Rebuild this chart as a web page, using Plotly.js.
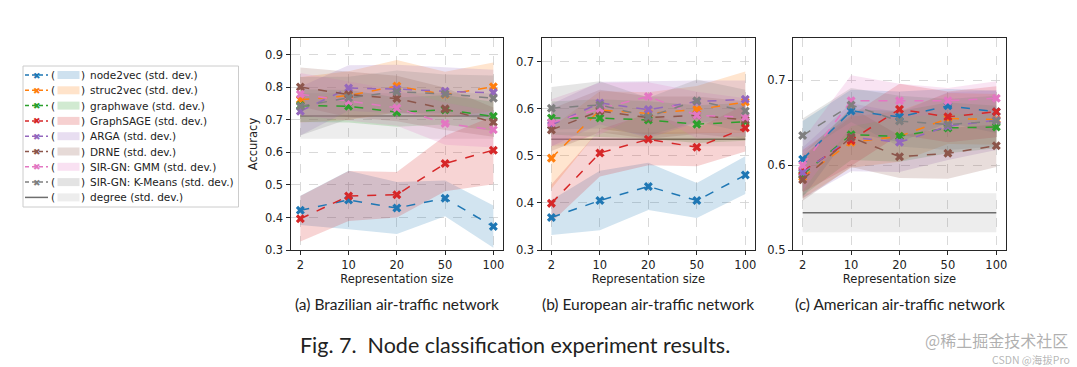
<!DOCTYPE html>
<html>
<head>
<meta charset="utf-8">
<script src="https://cdn.plot.ly/plotly-3.0.1.min.js"></script>
<style>html,body{margin:0;padding:0;background:#fff;}#chart{width:1077px;height:367px;}</style>
</head>
<body>
<div id="chart"></div>
<script>
// ---------------- DATA ----------------
const categories = ['2', '10', '20', '50', '100'];
const methods = ['node2vec', 'struc2vec', 'graphwave', 'GraphSAGE', 'ARGA', 'DRNE', 'SIR-GN: GMM', 'SIR-GN: K-Means'];
const methodColors = ['#1f77b4', '#ff7f0e', '#2ca02c', '#d62728', '#9467bd', '#8c564b', '#e377c2', '#7f7f7f'];
const panelCaptions = ['(a) Brazilian air-traffic network', '(b) European air-traffic network', '(c) American air-traffic network'];

// (a) Brazilian
const brazilMeans = [
  [0.422, 0.454, 0.429, 0.459, 0.372],
  [0.762, 0.775, 0.804, 0.778, 0.802],
  [0.744, 0.742, 0.724, 0.731, 0.711],
  [0.396, 0.466, 0.470, 0.566, 0.607],
  [0.727, 0.798, 0.795, 0.788, 0.784],
  [0.801, 0.778, 0.766, 0.734, 0.693],
  [0.779, 0.757, 0.737, 0.689, 0.670],
  [0.742, 0.768, 0.787, 0.780, 0.767]
];
const brazilStd = [
  [0.045, 0.090, 0.080, 0.055, 0.065],
  [0.070, 0.075, 0.080, 0.070, 0.075],
  [0.050, 0.050, 0.045, 0.045, 0.045],
  [0.070, 0.077, 0.070, 0.085, 0.105],
  [0.075, 0.070, 0.075, 0.075, 0.070],
  [0.060, 0.070, 0.070, 0.065, 0.045],
  [0.065, 0.060, 0.055, 0.065, 0.055],
  [0.090, 0.065, 0.065, 0.060, 0.070]
];
const brazilDegree = [0.712, 0.070];

// (b) European
const europeMeans = [
  [0.369, 0.405, 0.435, 0.405, 0.459],
  [0.495, 0.597, 0.590, 0.598, 0.614],
  [0.580, 0.580, 0.576, 0.567, 0.572],
  [0.399, 0.506, 0.535, 0.518, 0.559],
  [0.565, 0.612, 0.598, 0.615, 0.620],
  [0.555, 0.595, 0.581, 0.586, 0.576],
  [0.570, 0.600, 0.626, 0.586, 0.582],
  [0.601, 0.608, 0.583, 0.617, 0.595]
];
const europeStd = [
  [0.037, 0.063, 0.050, 0.037, 0.040],
  [0.065, 0.040, 0.045, 0.050, 0.065],
  [0.035, 0.040, 0.040, 0.040, 0.040],
  [0.040, 0.050, 0.055, 0.040, 0.050],
  [0.045, 0.045, 0.060, 0.045, 0.040],
  [0.045, 0.045, 0.045, 0.040, 0.040],
  [0.050, 0.055, 0.030, 0.050, 0.040],
  [0.045, 0.050, 0.040, 0.045, 0.045]
];
const europeDegree = [0.535, 0.015];

// (c) American
const americaMeans = [
  [0.607, 0.664, 0.657, 0.670, 0.663],
  [0.586, 0.627, 0.634, 0.655, 0.654],
  [0.589, 0.636, 0.634, 0.644, 0.645],
  [0.593, 0.629, 0.666, 0.657, 0.663],
  [0.591, 0.633, 0.627, 0.646, 0.653],
  [0.583, 0.633, 0.610, 0.614, 0.623],
  [0.600, 0.676, 0.676, 0.676, 0.679],
  [0.635, 0.671, 0.652, 0.648, 0.652]
];
const americaStd = [
  [0.045, 0.025, 0.030, 0.020, 0.025],
  [0.025, 0.030, 0.030, 0.030, 0.030],
  [0.025, 0.030, 0.030, 0.030, 0.025],
  [0.025, 0.030, 0.030, 0.030, 0.030],
  [0.030, 0.040, 0.035, 0.040, 0.035],
  [0.025, 0.035, 0.025, 0.030, 0.025],
  [0.030, 0.030, 0.020, 0.015, 0.020],
  [0.020, 0.020, 0.030, 0.030, 0.030]
];
const americaDegree = [0.544, 0.023];

const yTicks = [
  [0.3, 0.4, 0.5, 0.6, 0.7, 0.8, 0.9],
  [0.3, 0.4, 0.5, 0.6, 0.7],
  [0.5, 0.6, 0.7]
];
const yRanges = [[0.3, 0.952], [0.3, 0.75], [0.5, 0.75]];

// ---------------- BUILD ----------------
const W = 1077, H = 367;
const fx = p => p / W;
const fy = p => 1 - p / H;
function rgba(hex, a) {
  const n = parseInt(hex.slice(1), 16);
  return `rgba(${(n >> 16) & 255},${(n >> 8) & 255},${n & 255},${a})`;
}
const panelPx = [[290.7, 503], [541.7, 755], [793, 1006]];
const plotTop = 38, plotBottom = 250;
const allMeans = [brazilMeans, europeMeans, americaMeans];
const allStd = [brazilStd, europeStd, americaStd];
const allDegree = [brazilDegree, europeDegree, americaDegree];
const degreeColor = '#6e6e6e';
const axisFont = {family: 'DejaVu Sans', size: 11.5, color: '#222'};

const traces = [];
const layout = {
  width: W, height: H,
  margin: {l: 0, r: 0, t: 0, b: 0},
  paper_bgcolor: '#fff', plot_bgcolor: '#fff',
  showlegend: false,
  shapes: [], annotations: []
};

for (let p = 0; p < 3; p++) {
  const sfx = p === 0 ? '' : String(p + 1);
  const xa = 'x' + sfx, ya = 'y' + sfx;
  const revCats = categories.slice().reverse();
  // degree
  const [dm, ds] = allDegree[p];
  traces.push({
    x: categories.concat(revCats),
    y: categories.map(() => dm + ds).concat(categories.map(() => dm - ds)),
    xaxis: xa, yaxis: ya, type: 'scatter', mode: 'lines', fill: 'toself',
    fillcolor: 'rgba(128,128,128,0.14)', line: {width: 0}, hoverinfo: 'skip'
  });
  traces.push({
    x: categories, y: categories.map(() => dm), xaxis: xa, yaxis: ya,
    type: 'scatter', mode: 'lines', line: {color: degreeColor, width: 1.5}
  });
  for (let m = 0; m < methods.length; m++) {
    const mean = allMeans[p][m], sd = allStd[p][m];
    const up = mean.map((v, i) => v + sd[i]);
    const lo = mean.map((v, i) => v - sd[i]).reverse();
    traces.push({
      x: categories.concat(revCats), y: up.concat(lo),
      xaxis: xa, yaxis: ya, type: 'scatter', mode: 'lines', fill: 'toself',
      fillcolor: rgba(methodColors[m], 0.2), line: {width: 0}, hoverinfo: 'skip'
    });
  }
  for (let m = 0; m < methods.length; m++) {
    traces.push({
      x: categories, y: allMeans[p][m], xaxis: xa, yaxis: ya,
      type: 'scatter', mode: 'lines+markers', name: methods[m],
      line: {color: methodColors[m], width: 1.5, dash: 'dash'},
      marker: {symbol: 'x', size: 8, color: methodColors[m], line: {width: 0}}
    });
  }
  layout['xaxis' + sfx] = {
    domain: [fx(panelPx[p][0]), fx(panelPx[p][1])], anchor: ya,
    type: 'category', range: [-0.2, 4.2],
    showline: true, mirror: true, linecolor: '#262626', linewidth: 1.2,
    ticks: 'outside', ticklen: 4, tickcolor: '#262626', tickwidth: 1,
    showgrid: true, gridcolor: '#cfcfcf', gridwidth: 0.8, griddash: 'dash',
    zeroline: false, tickfont: axisFont,
    title: {text: 'Representation size', font: axisFont, standoff: 2}
  };
  layout['yaxis' + sfx] = {
    domain: [fy(plotBottom), fy(plotTop)], anchor: xa,
    range: yRanges[p], tickvals: yTicks[p], ticktext: yTicks[p].map(v => v.toFixed(1)),
    showline: true, mirror: true, linecolor: '#262626', linewidth: 1.2,
    ticks: 'outside', ticklen: 4, tickcolor: '#262626', tickwidth: 1,
    showgrid: true, gridcolor: '#cfcfcf', gridwidth: 0.8, griddash: 'dash',
    zeroline: false, tickfont: axisFont,
    title: p === 0 ? {text: 'Accuracy', font: axisFont, standoff: 4} : {text: ''}
  };
  layout.annotations.push({
    xref: 'paper', yref: 'paper', x: fx((panelPx[p][0] + panelPx[p][1]) / 2), y: fy(304),
    xanchor: 'center', yanchor: 'middle', showarrow: false,
    text: panelCaptions[p], font: {family: 'Lato', size: 15.5, color: '#222'}
  });
}

// ---------------- LEGEND (drawn) ----------------
layout.shapes.push({
  type: 'rect', xref: 'paper', yref: 'paper',
  x0: fx(23), x1: fx(238.5), y0: fy(207), y1: fy(66),
  line: {color: '#cccccc', width: 1}, fillcolor: '#ffffff', layer: 'above'
});
const legendNames = methods.concat(['degree']);
const legendColors = methodColors.concat([degreeColor]);
legendNames.forEach((name, i) => {
  const cy = 75 + i * 15.3;
  const isDegree = i === legendNames.length - 1;
  layout.shapes.push({
    type: 'line', xref: 'paper', yref: 'paper', layer: 'above',
    x0: fx(25), x1: fx(48), y0: fy(cy), y1: fy(cy),
    line: {color: legendColors[i], width: 1.5, dash: isDegree ? 'solid' : '4px,3px'}
  });
  if (!isDegree) {
    layout.annotations.push({
      xref: 'paper', yref: 'paper', x: fx(36.5), y: fy(cy + 0.5), xanchor: 'center', yanchor: 'middle',
      showarrow: false, text: '✖', font: {family: 'DejaVu Sans', size: 9, color: legendColors[i]}
    });
  }
  layout.shapes.push({
    type: 'rect', xref: 'paper', yref: 'paper', layer: 'above',
    x0: fx(57.5), x1: fx(79.5), y0: fy(cy + 4), y1: fy(cy - 4),
    line: {width: 0}, fillcolor: isDegree ? 'rgba(128,128,128,0.14)' : rgba(legendColors[i], 0.22)
  });
  layout.annotations.push({
    xref: 'paper', yref: 'paper', x: fx(53.3), y: fy(cy), xanchor: 'center', yanchor: 'middle',
    showarrow: false, text: '(', font: {family: 'DejaVu Sans', size: 10.5, color: '#222'}
  });
  layout.annotations.push({
    xref: 'paper', yref: 'paper', x: fx(83.2), y: fy(cy), xanchor: 'center', yanchor: 'middle',
    showarrow: false, text: ')', font: {family: 'DejaVu Sans', size: 10.5, color: '#222'}
  });
  layout.annotations.push({
    xref: 'paper', yref: 'paper', x: fx(88), y: fy(cy), xanchor: 'left', yanchor: 'middle',
    showarrow: false, text: name + ' (std. dev.)', font: {family: 'DejaVu Sans', size: 10.5, color: '#222'}
  });
});

// ---------------- FIGURE CAPTION & WATERMARK ----------------
layout.annotations.push({
  xref: 'paper', yref: 'paper', x: fx(515), y: fy(345), xanchor: 'center', yanchor: 'middle',
  showarrow: false, text: 'Fig. 7.  Node classification experiment results.',
  font: {family: 'Lato', size: 21.5, color: '#222'}
});
layout.annotations.push({
  xref: 'paper', yref: 'paper', x: fx(1070), y: fy(340), xanchor: 'right', yanchor: 'middle',
  showarrow: false, text: '@稀土掘金技术社区',
  font: {family: 'Noto Sans CJK SC', size: 16, color: 'rgba(150,150,150,0.75)'}
});
layout.annotations.push({
  xref: 'paper', yref: 'paper', x: fx(1072), y: fy(359), xanchor: 'right', yanchor: 'middle',
  showarrow: false, text: 'CSDN @海拔Pro',
  font: {family: 'Noto Sans CJK SC', size: 10.5, color: 'rgba(150,150,150,0.7)'}
});

Plotly.newPlot('chart', traces, layout, {staticPlot: true, displayModeBar: false});
</script>
</body>
</html>
